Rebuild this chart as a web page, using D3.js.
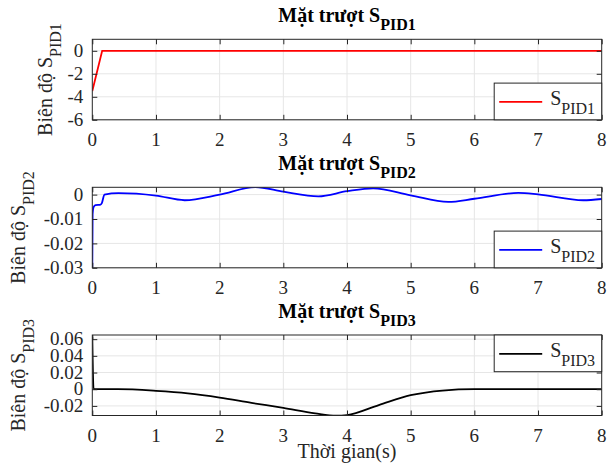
<!DOCTYPE html>
<html>
<head>
<script src="https://d3js.org/d3.v7.min.js"></script>
<style>
  body { margin: 0; background: #fff; }
  text { font-family: "Liberation Serif", "Times New Roman", serif; fill: #262626; }
</style>
</head>
<body>
<div id="chart"></div>
<script>
// time axis ticks (seconds)
var xTicks = [0, 1, 2, 3, 4, 5, 6, 7, 8];

// S_PID1 : sliding surface 1
var tPID1 = [0, 0.155, 1, 2, 3, 4, 5, 6, 7, 8];
var sPID1 = [-3.5, 0, 0, 0, 0, 0, 0, 0, 0, 0];

// S_PID2 : sliding surface 2
var tPID2 = [0, 0.005, 0.02, 0.05, 0.13, 0.15, 0.19, 0.41, 1.0, 1.45, 2.0, 2.56, 3.0, 3.55, 4.0, 4.41, 5.0, 5.59, 6.0, 6.69, 7.0, 7.71, 8.0];
var sPID2 = [-0.03, -0.008, -0.0051, -0.0043, -0.0041, -0.0035, 0, 0.0006, -0.0004, -0.0023, 0, 0.0031, 0.0012, -0.0007, 0.0014, 0.0026, -0.0003, -0.003, -0.0017, 0.0007, 0.0001, -0.0023, -0.0018];

// S_PID3 : sliding surface 3
var tPID3 = [0, 0.02, 0.4, 1.0, 1.5, 2.0, 2.5, 3.0, 3.5, 3.83, 4.0, 4.5, 5.0, 5.5, 6.0, 7.0, 8.0];
var sPID3 = [0.063, 0, 0, -0.002, -0.005, -0.010, -0.0164, -0.0224, -0.029, -0.0318, -0.031, -0.019, -0.0072, -0.0016, 0, 0, 0];

// y ticks per panel
var yTicks1 = [-6, -4, -2, 0];
var yTicks2 = [-0.03, -0.02, -0.01, 0];
var yTicks3 = [-0.02, 0, 0.02, 0.04, 0.06];

var fmt2 = d => d === 0 ? "0" : d3.format(".2f")(d).replace("−", "-");

var panels = [
  {t: tPID1, s: sPID1, sub: "PID1", color: "#ff0000", dom: [-6, 1], ticks: yTicks1, fmt: d => String(d),
   top: 39.3, labelX: 52, legendTop: false, curve: d3.curveLinear},
  {t: tPID2, s: sPID2, sub: "PID2", color: "#0000ff", dom: [-0.03, 0.003], ticks: yTicks2, fmt: fmt2,
   top: 187.3, labelX: 25, legendTop: false, curve: d3.curveMonotoneX},
  {t: tPID3, s: sPID3, sub: "PID3", color: "#000000", dom: [-0.0315, 0.065], ticks: yTicks3, fmt: fmt2,
   top: 335, labelX: 25, legendTop: true, curve: d3.curveMonotoneX}
];

var W = 614, H = 472;
var left = 92.3, right = 601.7, ph = 80.5;

var svg = d3.select("#chart").append("svg")
    .attr("width", W).attr("height", H);

var x = d3.scaleLinear().domain([0, 8]).range([left, right]);

function styleAxis(a) {
  a.select(".domain").remove();
  a.selectAll("line").attr("stroke", "#262626");
}

panels.forEach(function(p, i) {
  var y = d3.scaleLinear().domain(p.dom).range([p.top + ph, p.top]);
  var g = svg.append("g");

  // grid
  g.selectAll(".vg").data(xTicks.slice(1, -1)).enter().append("line")
      .attr("x1", d => x(d)).attr("x2", d => x(d))
      .attr("y1", p.top).attr("y2", p.top + ph)
      .attr("stroke", "#e6e6e6").attr("stroke-width", 1);
  g.selectAll(".hg").data(p.ticks).enter().append("line")
      .attr("x1", left).attr("x2", right)
      .attr("y1", d => y(d)).attr("y2", d => y(d))
      .attr("stroke", "#e6e6e6").attr("stroke-width", 1);

  // clip
  svg.append("clipPath").attr("id", "clip" + i).append("rect")
      .attr("x", left).attr("y", p.top).attr("width", right - left).attr("height", ph);

  var line = d3.line().x((d, k) => x(p.t[k])).y(d => y(d)).curve(p.curve);
  g.append("path").datum(p.s)
      .attr("clip-path", "url(#clip" + i + ")")
      .attr("d", line)
      .attr("fill", "none")
      .attr("stroke", p.color)
      .attr("stroke-width", 1.8);

  // axes (box with inner ticks on all sides)
  g.append("g").attr("transform", "translate(0," + (p.top + ph) + ")")
      .call(d3.axisBottom(x).tickValues(xTicks).tickSizeInner(-5).tickSizeOuter(0).tickFormat(""))
      .call(styleAxis);
  g.append("g").attr("transform", "translate(0," + p.top + ")")
      .call(d3.axisTop(x).tickValues(xTicks).tickSizeInner(-5).tickSizeOuter(0).tickFormat(""))
      .call(styleAxis);
  g.append("g").attr("transform", "translate(" + left + ",0)")
      .call(d3.axisLeft(y).tickValues(p.ticks).tickSizeInner(-5).tickSizeOuter(0).tickFormat(""))
      .call(styleAxis);
  g.append("g").attr("transform", "translate(" + right + ",0)")
      .call(d3.axisRight(y).tickValues(p.ticks).tickSizeInner(-5).tickSizeOuter(0).tickFormat(""))
      .call(styleAxis);
  g.append("rect")
      .attr("x", left).attr("y", p.top).attr("width", right - left).attr("height", ph)
      .attr("fill", "none").attr("stroke", "#262626").attr("stroke-width", 1);

  // tick labels
  g.selectAll(".xt").data(xTicks).enter().append("text")
      .attr("x", d => x(d)).attr("y", p.top + ph + 26)
      .attr("text-anchor", "middle").attr("font-size", 19)
      .text(d => d);
  g.selectAll(".yt").data(p.ticks).enter().append("text")
      .attr("x", left - 9).attr("y", d => y(d)).attr("dy", "0.33em")
      .attr("text-anchor", "end").attr("font-size", 19)
      .text(p.fmt);

  // title
  var title = g.append("text")
      .attr("x", (left + right) / 2).attr("y", p.top - 17)
      .attr("text-anchor", "middle")
      .attr("font-weight", "bold").attr("font-size", 20).style("fill", "#000");
  title.append("tspan").text("Mặt trượt S");
  title.append("tspan").attr("dy", 8).attr("font-size", 16).text(p.sub);

  // y label
  var yl = g.append("text")
      .attr("transform", "translate(" + p.labelX + "," + (p.top + ph / 2) + ") rotate(-90)")
      .attr("text-anchor", "middle")
      .attr("font-size", 20);
  yl.append("tspan").text("Biên độ S");
  yl.append("tspan").attr("dy", 9).attr("font-size", 16).text(p.sub);

  // legend
  var lw = 107.5, lh = 36.7;
  var lx = right - lw, ly = p.legendTop ? p.top : p.top + ph - lh;
  g.append("rect").attr("x", lx).attr("y", ly).attr("width", lw).attr("height", lh)
      .attr("fill", "#fff").attr("stroke", "#262626").attr("stroke-width", 1);
  g.append("line").attr("x1", lx + 5).attr("x2", lx + 48)
      .attr("y1", ly + lh / 2 + 0.5).attr("y2", ly + lh / 2 + 0.5)
      .attr("stroke", p.color).attr("stroke-width", 1.8);
  var lt = g.append("text").attr("x", lx + 56).attr("y", ly + 22)
      .attr("font-size", 20);
  lt.append("tspan").text("S");
  lt.append("tspan").attr("dy", 9).attr("font-size", 16).text(p.sub);
});

svg.append("text")
    .attr("x", (left + right) / 2).attr("y", 458)
    .attr("text-anchor", "middle")
    .attr("font-size", 20)
    .text("Thời gian(s)");
</script>
</body>
</html>
